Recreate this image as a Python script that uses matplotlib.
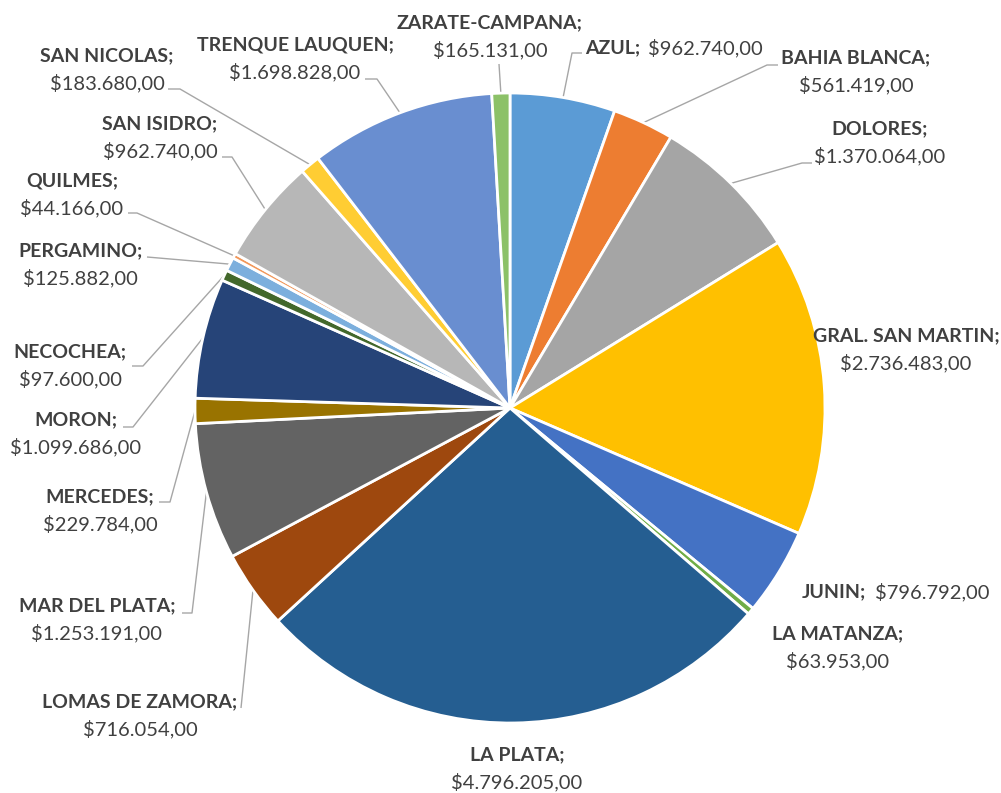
import math
import matplotlib.pyplot as plt

plt.rcParams["font.family"] = ["Lato", "DejaVu Sans"]

# Data
departamentos = [
    "AZUL", "BAHIA BLANCA", "DOLORES", "GRAL. SAN MARTIN", "JUNIN",
    "LA MATANZA", "LA PLATA", "LOMAS DE ZAMORA", "MAR DEL PLATA",
    "MERCEDES", "MORON", "NECOCHEA", "PERGAMINO", "QUILMES",
    "SAN ISIDRO", "SAN NICOLAS", "TRENQUE LAUQUEN", "ZARATE-CAMPANA",
]
montos = [
    962740, 561419, 1370064, 2736483, 796792,
    63953, 4796205, 716054, 1253191,
    229784, 1099686, 97600, 125882, 44166,
    962740, 183680, 1698828, 165131,
]

colores = [
    "#5B9BD5", "#ED7D31", "#A5A5A5", "#FFC000", "#4472C4", "#70AD47",
    "#255E91", "#9E480E", "#636363", "#997300", "#264478", "#43682B",
    "#7CAFDD", "#F1975A", "#B7B7B7", "#FFCD33", "#698ED0", "#8CC168",
]

W, H = 1001, 793
TXT = "#404040"
LINE = "#A6A6A6"


def fmt(v):
    s = f"{v:,.2f}"
    s = s.replace(",", "X").replace(".", ",").replace("X", ".")
    return "$" + s


def px(x, y):
    # pixel coords (top-left origin) -> data coords
    return x, H - y


# label layout: (mode, x, y, leader points from text side)
# mode "c": two lines centred at x, name at y; "l": one line starting at x
layout = {
    "AZUL": ("l", 585, 48, [(582, 53), (572, 53)]),
    "BAHIA BLANCA": ("c", 856, 58, [(778, 65), (767, 65)]),
    "DOLORES": ("c", 880, 129, [(812, 163), (802, 163)]),
    "GRAL. SAN MARTIN": ("c", 906, 336, []),
    "JUNIN": ("l", 802, 592, []),
    "LA MATANZA": ("c", 838, 634, []),
    "LA PLATA": ("c", 517, 755, []),
    "LOMAS DE ZAMORA": ("c", 140, 702, [(241, 708)]),
    "MAR DEL PLATA": ("c", 97, 606, [(182, 613), (192, 613)]),
    "MERCEDES": ("c", 100, 497, [(159, 502), (170, 502)]),
    "MORON": ("c", 76, 420, [(123, 427), (133, 427)]),
    "NECOCHEA": ("c", 70, 352, [(132, 366), (143, 366)]),
    "PERGAMINO": ("c", 80, 251, [(147, 257)]),
    "QUILMES": ("c", 72, 181, [(128, 213), (137, 213)]),
    "SAN ISIDRO": ("c", 160, 124, [(222, 157), (232, 157)]),
    "SAN NICOLAS": ("c", 107, 56, [(168, 89), (180, 89)]),
    "TRENQUE LAUQUEN": ("c", 295, 45, [(365, 79), (377, 79)]),
    "ZARATE-CAMPANA": ("c", 490, 23, [(499, 64)]),
}

fig = plt.figure(figsize=(W / 100, H / 100), dpi=100)
ax = fig.add_axes([0, 0, 1, 1])

cx, cy = px(510, 408)
radius = 315
wedges, _ = ax.pie(
    montos,
    colors=colores,
    startangle=90,
    counterclock=False,
    center=(cx, cy),
    radius=radius,
    wedgeprops=dict(edgecolor="white", linewidth=2),
)
ax.set_xlim(0, W)
ax.set_ylim(0, H)
ax.set_aspect("equal")
ax.axis("off")

fs_name = 14
fs_val = 14.5
line_gap = 27
for w, name, val in zip(wedges, departamentos, montos):
    mode, x, y, pts = layout[name]
    ang = math.radians((w.theta1 + w.theta2) / 2)
    ex = cx + radius * math.cos(ang)
    ey = cy + radius * math.sin(ang)
    if pts:
        xs = [px(*p)[0] for p in pts] + [ex]
        ys = [px(*p)[1] for p in pts] + [ey]
        ax.plot(xs, ys, color=LINE, linewidth=1, zorder=0, solid_capstyle="butt")

    if mode == "c":
        ax.text(*px(x, y), name + ";", ha="center", va="center",
                fontsize=fs_name, fontweight="bold", color=TXT)
        ax.text(*px(x, y + line_gap), fmt(val), ha="center", va="center",
                fontsize=fs_val, color=TXT)
    else:
        t = ax.text(*px(x, y), name + ";", ha="left", va="center",
                    fontsize=fs_name, fontweight="bold", color=TXT)
        ax.annotate(fmt(val), xy=(1, 0.5), xycoords=t, xytext=(6, 0),
                    textcoords="offset points", ha="left", va="center",
                    fontsize=fs_val, color=TXT)

fig.savefig("out.png", dpi=100)
